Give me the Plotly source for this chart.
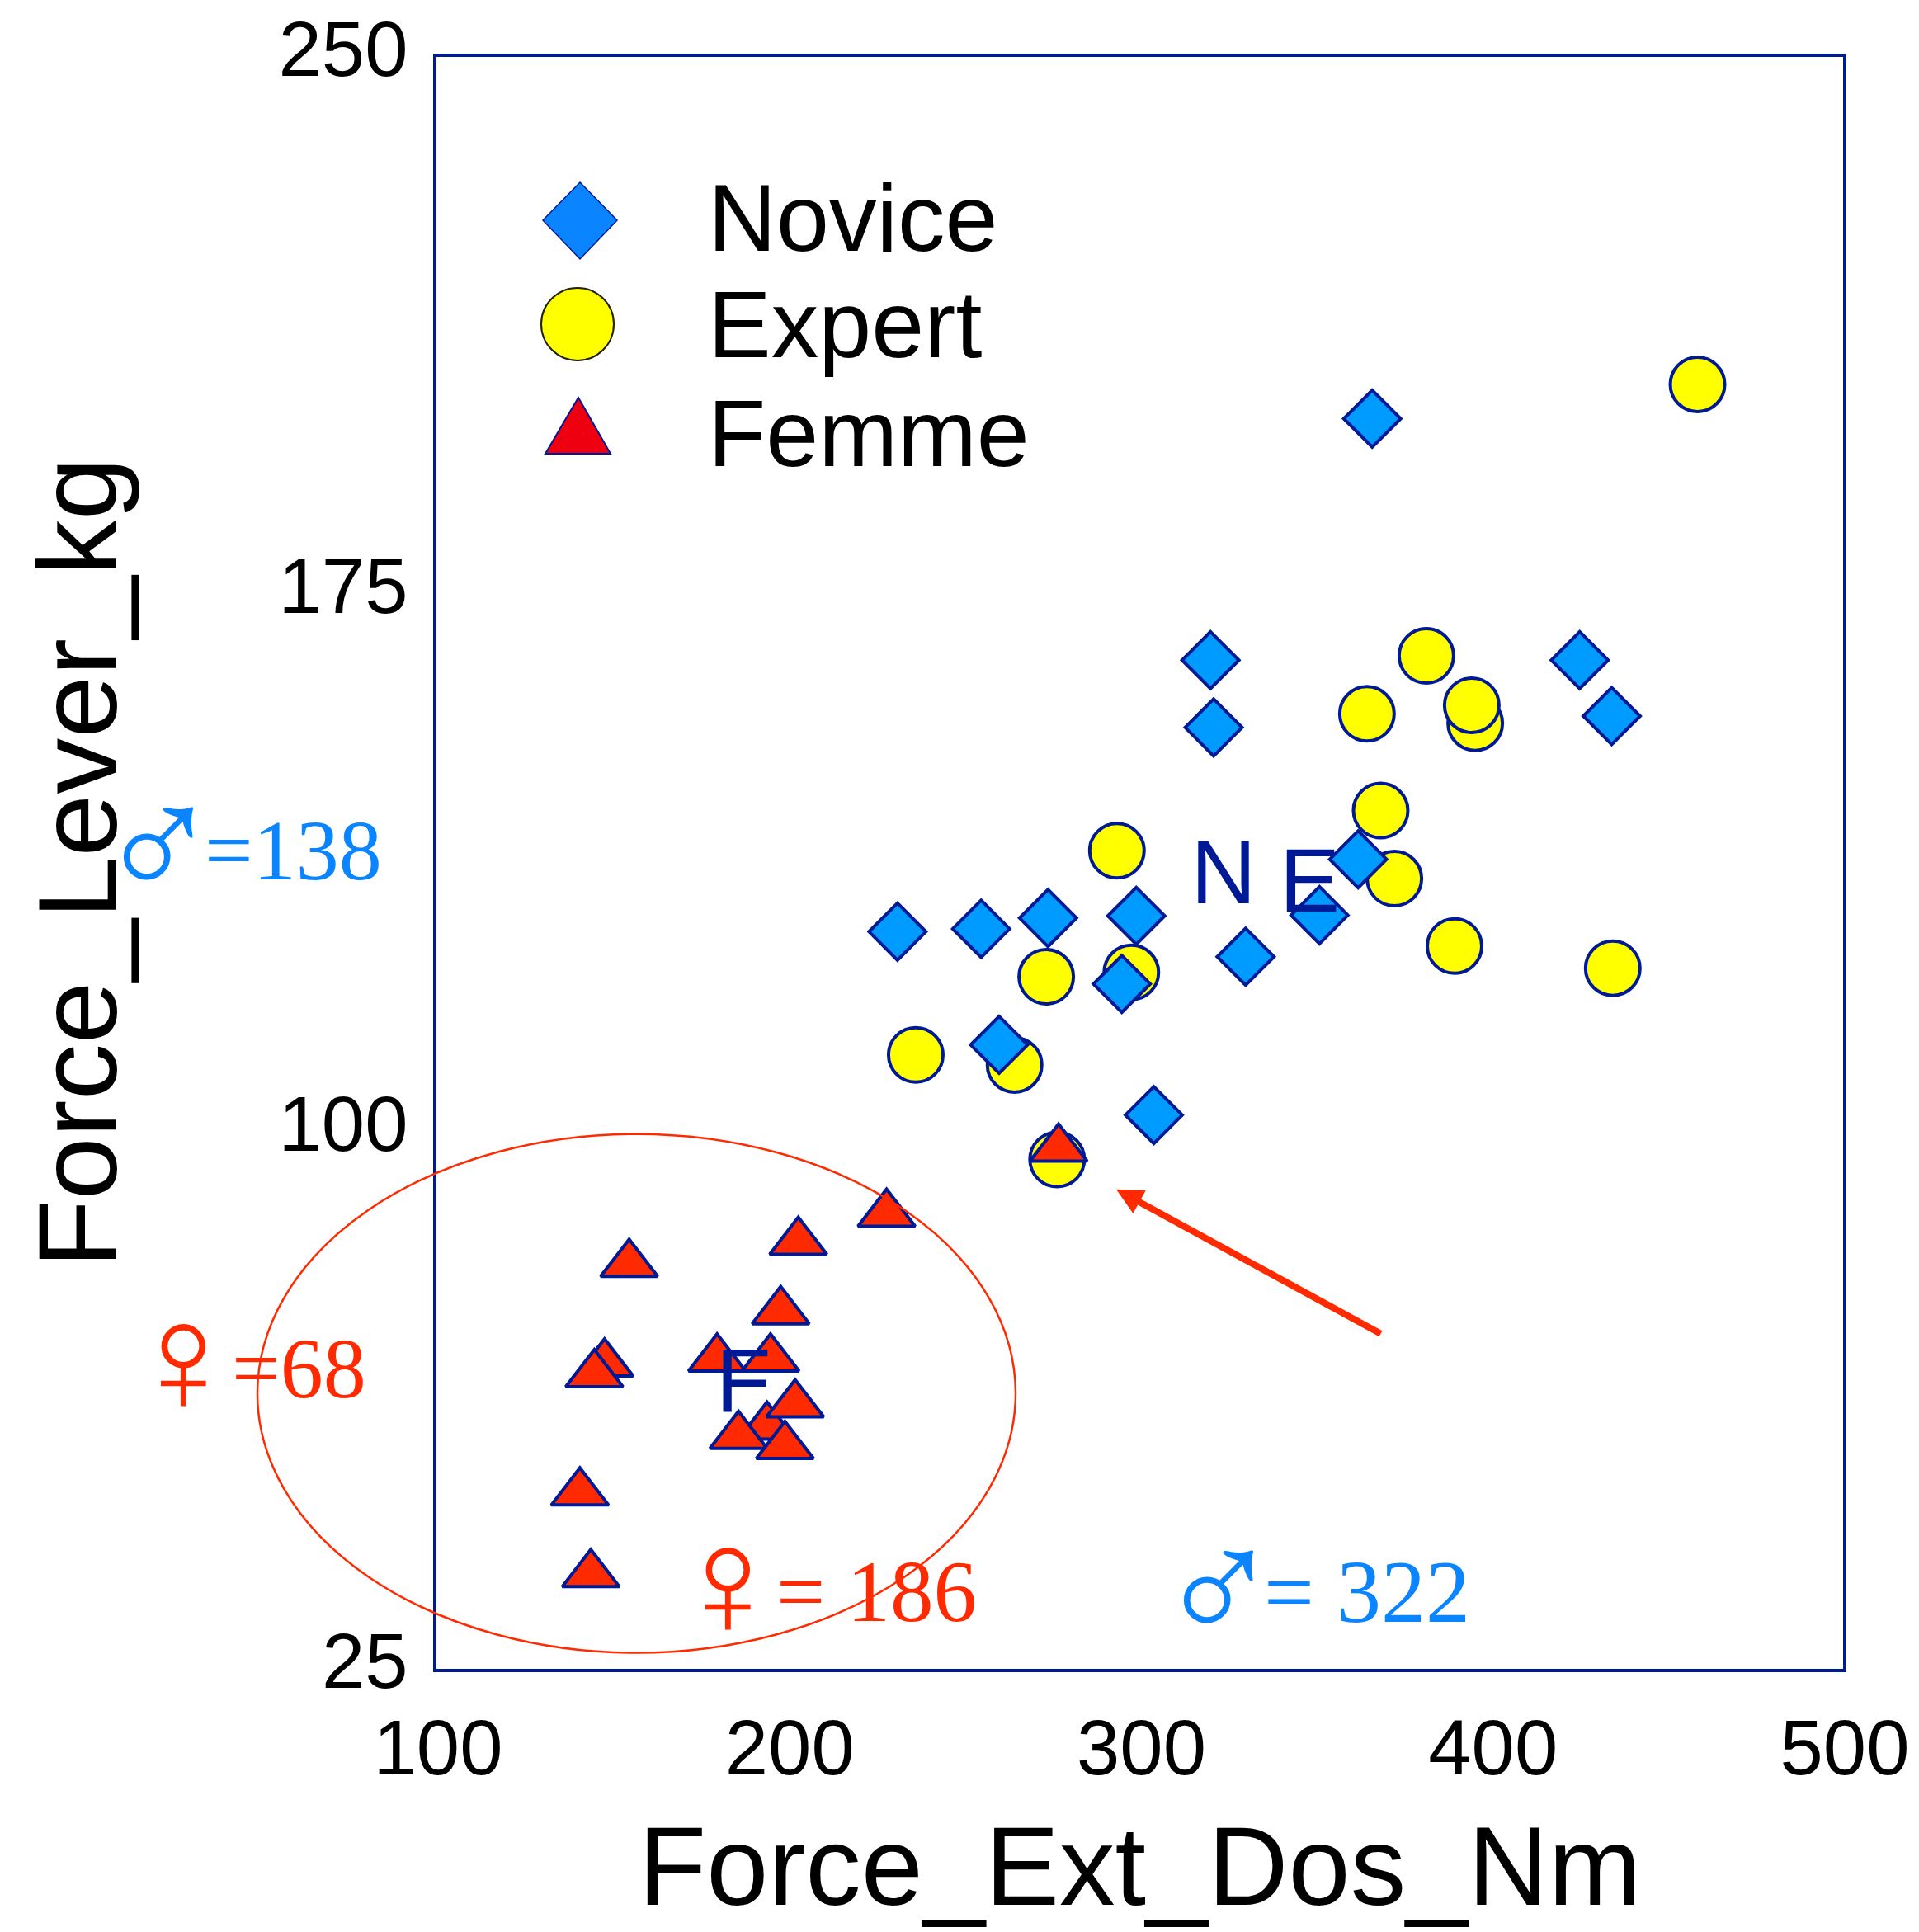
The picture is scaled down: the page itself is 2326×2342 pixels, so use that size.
import plotly.graph_objects as go

# ---- data ----
novice_x = [320.1, 321.0, 425.1, 434.2, 351.1, 362.1, 330.1, 299.0, 273.9, 254.9, 231.1, 294.9, 260.0, 304.0, 366.1]
novice_y = [165.8, 156.4, 165.8, 158.0, 130.2, 138.0, 124.4, 130.1, 129.8, 128.3, 127.9, 120.6, 112.1, 102.3, 199.5]

expert_x = [381.5, 364.6, 395.4, 394.4, 368.5, 372.4, 293.5, 389.5, 434.5, 297.6, 273.4, 236.3, 264.4, 276.5, 458.6]
expert_y = [166.4, 158.3, 157.0, 159.5, 144.8, 135.3, 139.2, 125.9, 122.8, 122.2, 121.6, 110.7, 109.3, 96.1, 204.3]

femme_x = [154.8, 202.9, 228.0, 197.9, 147.8, 144.9, 179.8, 195.0, 194.0, 202.0, 185.9, 199.1, 140.8, 143.9, 276.9]
femme_y = [81.5, 84.6, 88.5, 74.9, 67.6, 66.1, 68.3, 68.3, 58.8, 61.9, 57.5, 56.1, 49.6, 38.2, 97.6]

group_labels = ["N", "E", "F"]
group_x = [323.8, 348.3, 187.3]
group_y = [135.0, 133.9, 64.0]

x_ticks = [100, 200, 300, 400, 500]
y_ticks = [25, 100, 175, 250]
legend_labels = ["Novice", "Expert", "Femme"]

# ---- style and layout ----
W, H = 2326, 2342
L, R, T, B = 529, 2234, 69, 2023.5
NAVY = "#001a96"
BLUE = "#0a84ff"
RED = "#ff2a00"
SANS = "Liberation Sans, Arial, sans-serif"
SERIF = "Liberation Serif, Times New Roman, serif"


def px(x):
    return (x - L) / (R - L)


def py(y):
    return (B - y) / (B - T)


fig = go.Figure()
fig.add_trace(go.Scatter(x=expert_x, y=expert_y, mode="markers", name="Expert", showlegend=False, cliponaxis=False,
                         marker=dict(symbol="circle", size=66, color="#ffff00", line=dict(color=NAVY, width=4))))
fig.add_trace(go.Scatter(x=novice_x, y=novice_y, mode="markers", name="Novice", showlegend=False, cliponaxis=False,
                         marker=dict(symbol="diamond", size=53, color="#009bff", line=dict(color=NAVY, width=4))))
fig.add_trace(go.Scatter(x=femme_x, y=femme_y, mode="markers", name="Femme", showlegend=False, cliponaxis=False,
                         marker=dict(symbol="triangle-up", size=60, color=RED, line=dict(color=NAVY, width=4))))
fig.add_trace(go.Scatter(x=group_x, y=group_y, mode="text", text=group_labels, showlegend=False, cliponaxis=False,
                         textposition="middle center",
                         textfont=dict(family=SANS, size=110, color=NAVY)))

shapes = [
    # ellipse around the women's group
    dict(type="circle", xref="paper", yref="paper", x0=px(312), x1=px(1231), y0=py(2004), y1=py(1375),
         line=dict(color=RED, width=2.5)),
    # legend keys
    dict(type="path", xref="paper", yref="paper",
         path=f"M{px(703)},{py(221)} L{px(748)},{py(267)} L{px(703)},{py(314)} L{px(658)},{py(267)} Z",
         fillcolor=BLUE, line=dict(color=NAVY, width=1.5)),
    dict(type="circle", xref="paper", yref="paper", x0=px(656), x1=px(744), y0=py(437), y1=py(349),
         fillcolor="#ffff00", line=dict(color="#222200", width=2)),
    dict(type="path", xref="paper", yref="paper",
         path=f"M{px(701)},{py(482)} L{px(740)},{py(550)} L{px(661)},{py(550)} Z",
         fillcolor="#ee0010", line=dict(color=NAVY, width=2)),
]

annotations = []
for label, yc in zip(legend_labels, [264, 393, 525]):
    annotations.append(dict(text=label, xref="paper", yref="paper", x=px(856), y=py(yc), xanchor="left",
                            yanchor="middle", showarrow=False, font=dict(family=SANS, size=115, color="black")))
for text, xl, yc, size, color in [("=138", 246, 1031, 104, BLUE), ("=68", 279, 1659, 104, RED),
                                  ("= 186", 939, 1930, 105, RED), ("= 322", 1530, 1930, 108, BLUE)]:
    annotations.append(dict(text=text, xref="paper", yref="paper", x=px(xl), y=py(yc), xanchor="left",
                            yanchor="middle", showarrow=False, font=dict(family=SERIF, size=size, color=color)))
for glyph, xc, yc, size, color in [("♂", 192, 1024, 200, BLUE), ("♀", 222, 1648, 190, RED),
                                   ("♀", 882, 1919, 190, RED), ("♂", 1477, 1925, 200, BLUE)]:
    annotations.append(dict(text=glyph, xref="paper", yref="paper", x=px(xc), y=py(yc), xanchor="center",
                            yanchor="middle", showarrow=False, font=dict(family=SERIF, size=size, color=color)))
annotations.append(dict(text="", xref="paper", yref="paper", x=px(1353), y=py(1442), ax=322, ay=176,
                        showarrow=True, arrowhead=2, arrowsize=0.8, arrowwidth=8, arrowcolor=RED))

axis_common = dict(showline=True, mirror=True, linecolor=NAVY, linewidth=3.5, showgrid=False, zeroline=False,
                   ticks="", tickfont=dict(family=SANS, size=94, color="black"), automargin=False)

fig.update_layout(
    width=W, height=H, autosize=False,
    margin=dict(l=L, r=W - R, t=T, b=H - B, pad=0),
    paper_bgcolor="white", plot_bgcolor="white", showlegend=False,
    shapes=shapes, annotations=annotations,
    xaxis=dict(range=[100, 500], tickvals=x_ticks, ticklabelstandoff=11, ticklabelshift=2,
               title=dict(text="Force_Ext_Dos_Nm", font=dict(family=SANS, size=135, color="black"), standoff=46),
               **axis_common),
    yaxis=dict(range=[25, 250], tickvals=y_ticks, ticklabelstandoff=12, ticklabelshift=-10,
               title=dict(text="Force_Lever_kg", font=dict(family=SANS, size=136, color="black"), standoff=151),
               **axis_common),
)

fig.write_html("out.html", config={"displayModeBar": False},
               post_script="document.body.style.margin='0';document.documentElement.style.overflow='hidden';")
